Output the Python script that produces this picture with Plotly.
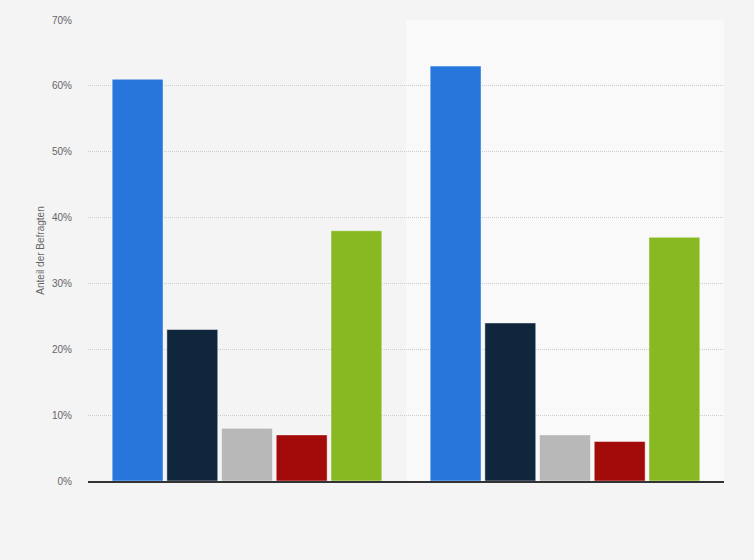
import plotly.graph_objects as go

categories = ["Kategorie 1", "Kategorie 2"]
series_names = ["Serie 1", "Serie 2", "Serie 3", "Serie 4", "Serie 5"]
series_values = [
    [61, 63],
    [23, 24],
    [8, 7],
    [7, 6],
    [38, 37],
]
colors = ["#2776dc", "#0f263d", "#b8b8b8", "#a30a0a", "#88b922"]
y_ticks = [0, 10, 20, 30, 40, 50, 60, 70]
y_ticklabels = [f"{v}%" for v in y_ticks]

fig = go.Figure()
for name, vals, col in zip(series_names, series_values, colors):
    fig.add_trace(go.Bar(
        x=categories, y=vals, name=name,
        marker=dict(color=col, line=dict(color="rgba(255,255,255,0.45)", width=1)),
    ))

fig.add_shape(type="rect", xref="x", yref="paper", x0=0.5, x1=1.5, y0=0, y1=1,
              fillcolor="#f9f9f9", line=dict(width=0), layer="below")

fig.update_layout(
    width=754, height=560,
    paper_bgcolor="#f4f4f4", plot_bgcolor="#f4f4f4",
    margin=dict(l=88, r=30, t=20, b=79),
    barmode="group", bargap=0.14, bargroupgap=0.07,
    showlegend=False,
    font=dict(family="Arial, Liberation Sans, sans-serif", color="#666666", size=10),
    xaxis=dict(showticklabels=False, showgrid=False, showline=True,
               linecolor="#333333", linewidth=1.5, ticks="", zeroline=False),
    yaxis=dict(range=[0, 70], tickvals=y_ticks, ticktext=y_ticklabels,
               showgrid=True, gridcolor="#cccccc", griddash="1px,1px", gridwidth=1,
               zeroline=False, ticks="", ticklen=0, ticklabelstandoff=15,
               tickfont=dict(size=10, color="#666666"),
               title=dict(text="Anteil der Befragten", font=dict(size=10, color="#666666"),
                          standoff=5)),
)

fig.write_html("out.html", config={"displayModeBar": False},
               post_script="document.body.style.margin='0';document.body.style.background='#f4f4f4';")
